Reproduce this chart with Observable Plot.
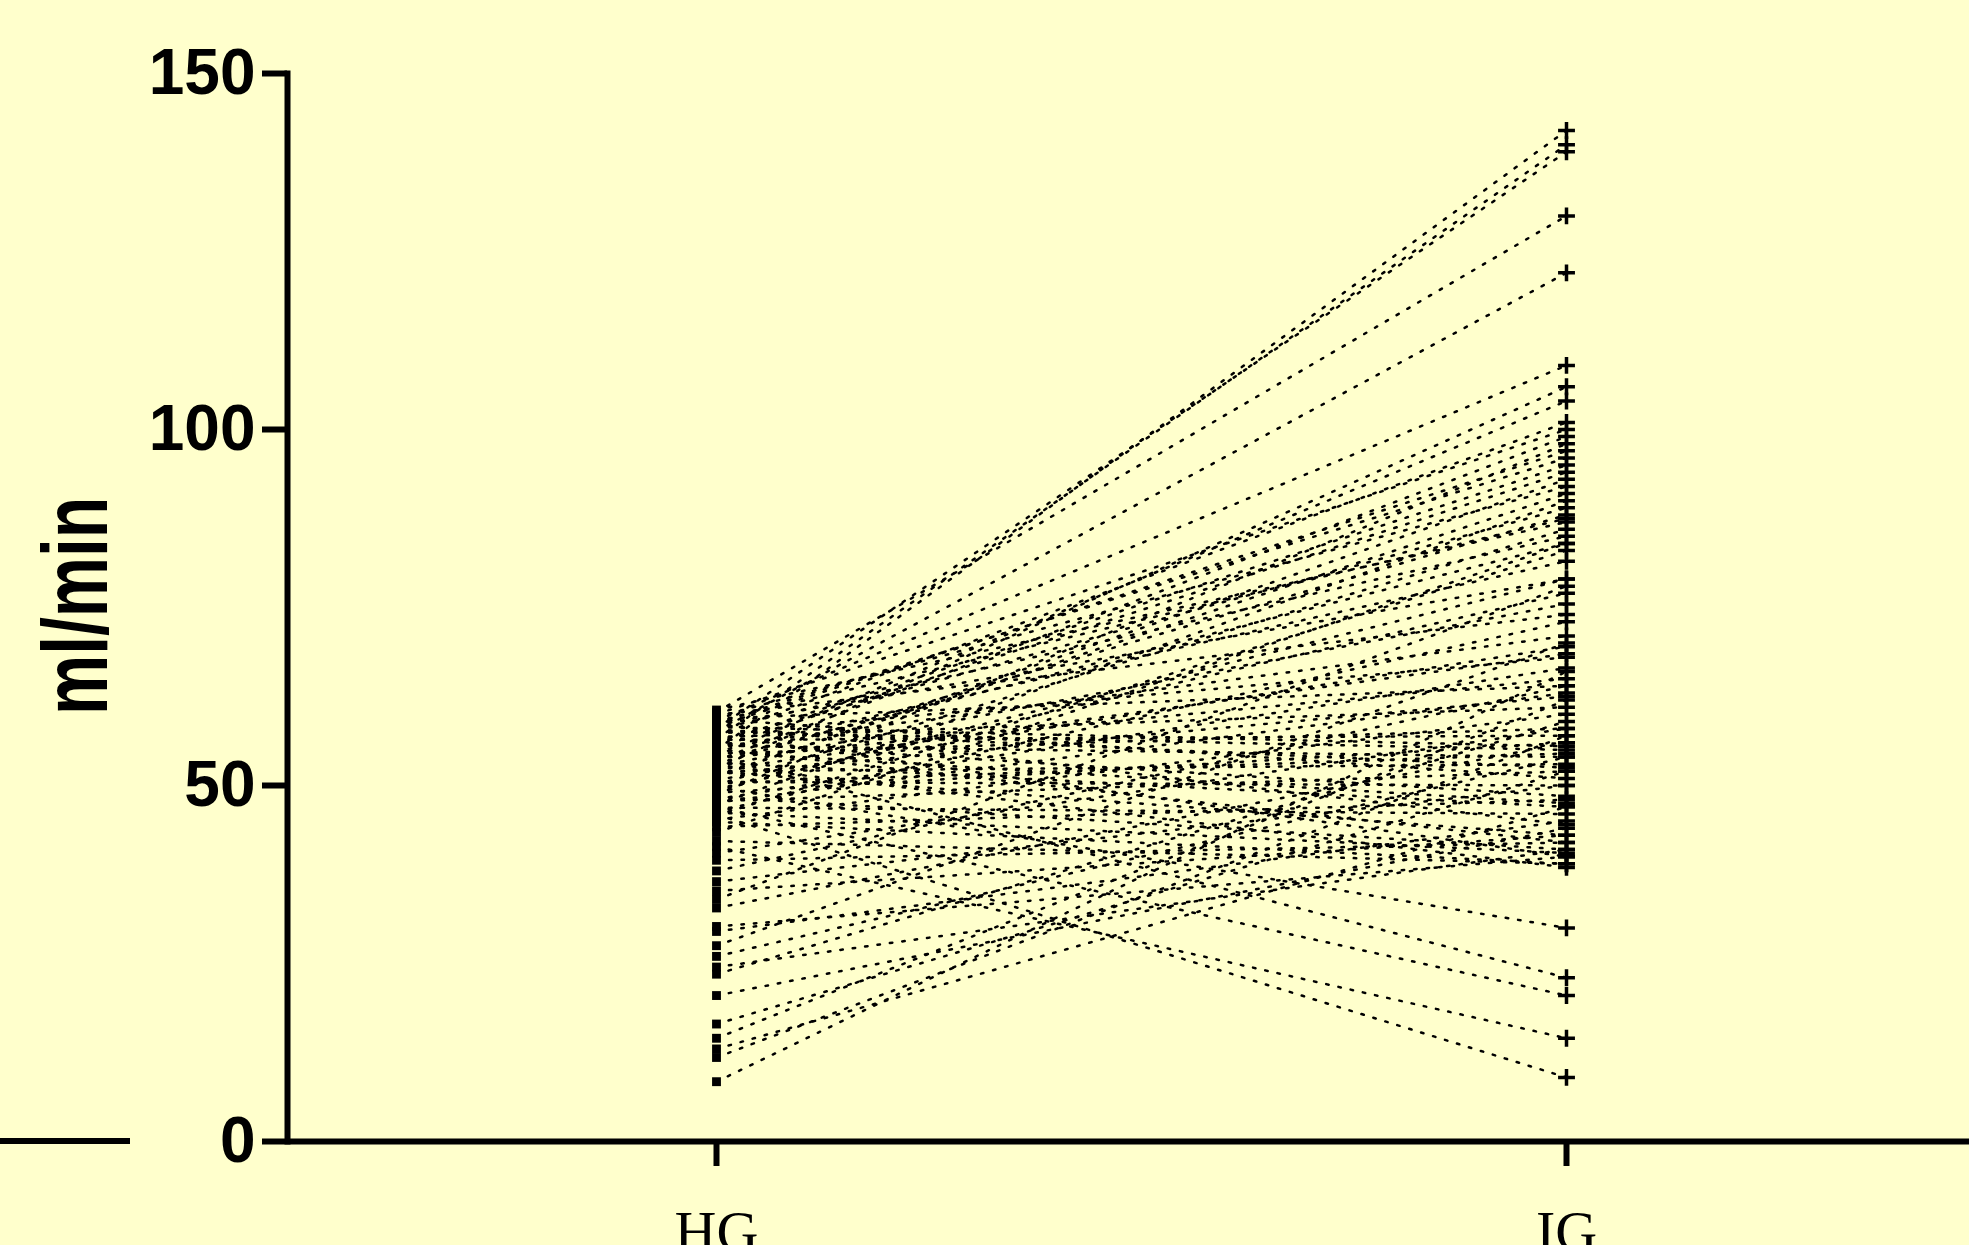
<!DOCTYPE html>
<html><head><meta charset="utf-8">
<script src="https://cdn.jsdelivr.net/npm/d3@7"></script>
<script src="https://cdn.jsdelivr.net/npm/@observablehq/plot@0.6"></script>
<style>
html,body{margin:0;padding:0;background:#FFFFCC;overflow:hidden}
#wrap{position:relative;width:1969px;height:1245px}
#stub{position:absolute;left:0;top:1138px;width:130px;height:6px;background:#000}
</style></head><body><div id="wrap"><div id="stub"></div></div>
<script>
const groups = ["HG", "IG"];
const hgValues = [55.0,56.5,58.0,60.3,57.6,59.1,52.4,54.2,57.0,60.0,53.5,48.7,58.8,55.9,51.2,59.6,47.3,56.2,53.0,60.6,
  50.1,57.9,45.8,54.8,58.5,49.5,52.7,59.9,46.4,55.4,50.8,57.3,48.1,53.8,59.4,51.6,56.8,45.2,54.5,49.0,
  58.2,57.5,55.6,52.0,47.8,59.3,50.5,56.0,53.2,46.9,58.6,51.9,55.1,48.4,57.1,44.9,52.9,49.8,54.0,47.0,
  41.4,45.9,58.3,55.3,51.4,59.0,53.6,47.6,56.4,50.3,54.7,57.8,46.2,52.2,49.3,
  8.4,11.8,13.0,14.5,16.5,20.5,23.5,24.5,26.0,27.5,29.5,30.2,32.8,34.0,35.2,36.5,38.0,39.5,40.5,42.2,43.4,44.2];
const igValues = [142,140,139,130,122,109,106,104,101,100,99,98,96,95,93,92,90,89,88,87,
  86,85,83,81.5,79,77,75.5,74,73,71,69.5,68,66.5,65,64,62.5,61,60,58,56,
  55.5,55,54,53,52,51,50,48.5,47,46,44.5,43,42,41,40,39,38.5,30,23,20.5,
  14.5,9,97,94,91,87.5,84,63,57,54.5,47.5,52.5,40.5,68.5,79,
  66,57,47,62,52,44,59,41,54,70,45,40,56,78,43,50,64,42,58,39,84,48];
const yTicks = [0, 50, 100, 150];
const yLabel = "ml/min";

const rows = hgValues.flatMap((h, i) => [
  {id: i, group: groups[0], v: h},
  {id: i, group: groups[1], v: igValues[i]}
]);

const chart = Plot.plot({
  width: 1969, height: 1245,
  marginLeft: 287, marginRight: 0, marginTop: 73, marginBottom: 104,
  style: {background: "#FFFFCC", color: "black", fontFamily: "'Liberation Sans', Arial, sans-serif", overflow: "visible"},
  x: {type: "point", domain: groups, range: [716, 1566], padding: 0},
  y: {domain: [0, 150], ticks: yTicks},
  marks: [
    Plot.line(rows, {x: "group", y: "v", z: "id", stroke: "black", strokeWidth: 2.5, strokeDasharray: "2.5 10"}),
    Plot.dot(rows.filter(d => d.group === "HG"), {x: "group", y: "v", symbol: "square", r: 5, fill: "black"}),
    Plot.dot(rows.filter(d => d.group === "IG"), {x: "group", y: "v", symbol: "plus", r: 5.5, stroke: "black", strokeWidth: 3.5}),
    Plot.axisY({ticks: yTicks, tickSize: 25, tickPadding: 7, fontSize: 64, fontWeight: "bold", strokeWidth: 6, label: null}),
    Plot.axisX({tickSize: 25, tickPadding: 43, fontSize: 58, fontFamily: "'Liberation Serif', 'Times New Roman', serif", strokeWidth: 6, label: null}),
    Plot.ruleY([0], {strokeWidth: 6}),
    Plot.frame({anchor: "left", strokeWidth: 6})
  ]
});

d3.select(chart).append("text")
  .attr("transform", "translate(107,606) rotate(-90)")
  .attr("text-anchor", "middle")
  .attr("font-size", 92)
  .attr("font-weight", "bold")
  .attr("font-family", "'Liberation Sans', Arial, sans-serif")
  .attr("fill", "black")
  .attr("textLength", 218)
  .attr("lengthAdjust", "spacingAndGlyphs")
  .text(yLabel);

document.getElementById("wrap").appendChild(chart);
</script></body></html>
